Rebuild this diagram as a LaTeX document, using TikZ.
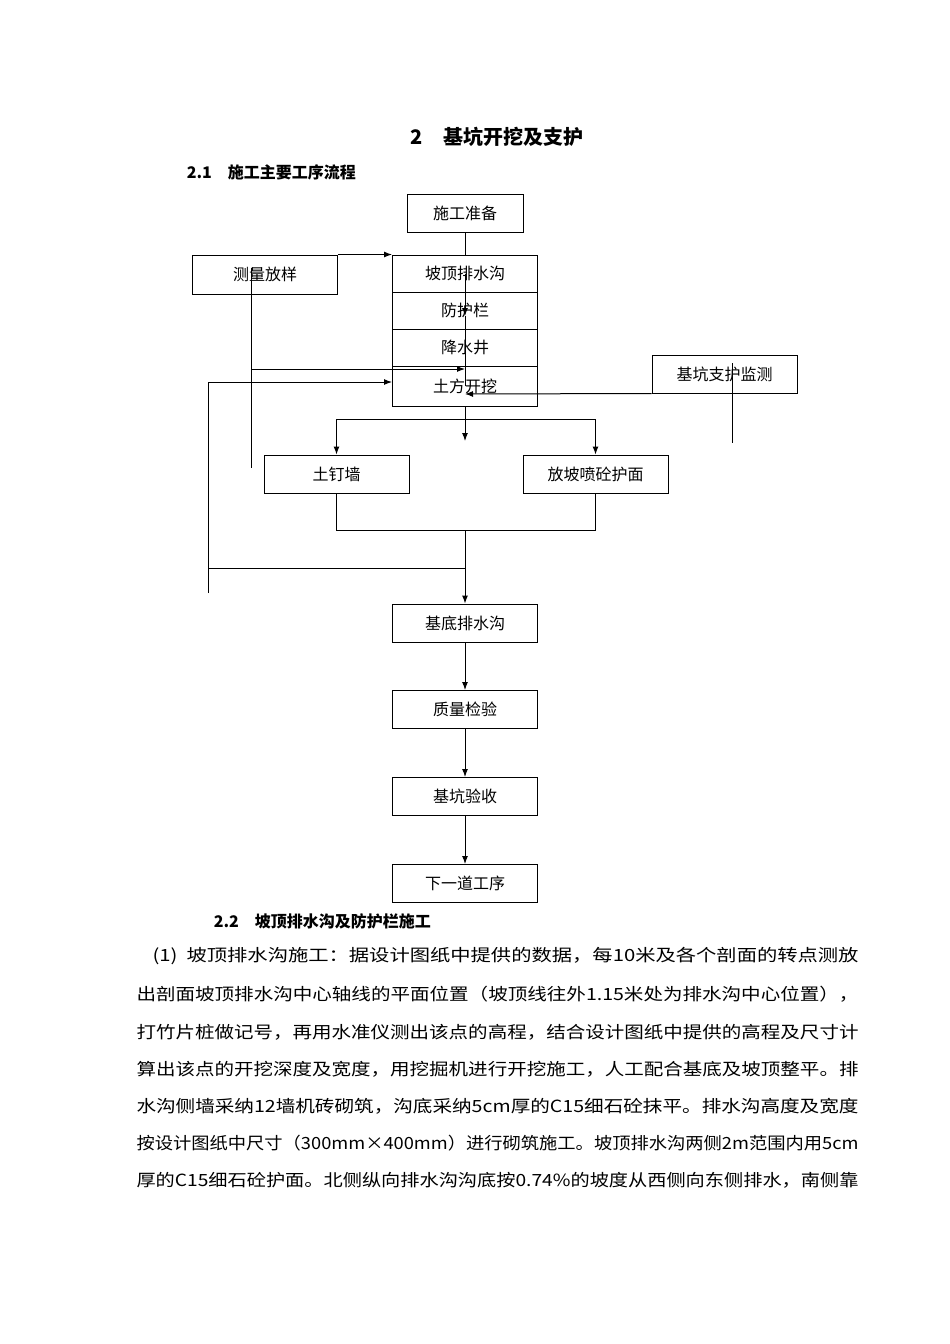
\documentclass[tikz,border=0pt]{standalone}
\usepackage{fontspec}
\usepackage{graphicx}
\usetikzlibrary{arrows.meta}
\setmainfont{Noto Sans CJK SC}
\begin{document}
\begin{tikzpicture}[x=1pt,y=-1pt,line width=1pt,>={Latex[length=8pt,width=6pt]},
  bx/.style={draw,minimum width=145pt,minimum height=38pt,inner sep=0pt,font=\fontsize{16}{16}\selectfont},
  ln/.style={anchor=west,inner sep=0pt,font=\fontsize{16.8}{16.8}\selectfont}]
\useasboundingbox[fill=white] (0,0) rectangle (950,1344);
\node[font=\bfseries\fontsize{20}{20}\selectfont] (t1) at (497,137) {2\quad 基坑开挖及支护};
\node[anchor=west,font=\bfseries\fontsize{16}{16}\selectfont] (t2) at (183,172) {2.1\quad 施工主要工序流程};
\node[anchor=west,font=\bfseries\fontsize{16}{16}\selectfont] (t3) at (210,921) {2.2\quad 坡顶排水沟及防护栏施工};

\node[bx,minimum width=116pt] (a) at (465,213) {施工准备};
\node[bx,minimum height=37pt] (s1) at (465,273.5) {坡顶排水沟};
\node[bx,minimum height=37pt] (s2) at (465,310.5) {防护栏};
\node[bx,minimum height=37pt] (s3) at (465,347.5) {降水井};
\node[bx,minimum height=40pt] (s4) at (465,386) {土方开挖};
\node[bx,minimum height=39pt] (m) at (265,274.5) {测量放样};
\node[bx,minimum height=38pt] (j) at (724.5,374) {基坑支护监测};
\node[bx] (w1) at (336.5,474) {土钉墙};
\node[bx] (w2) at (595.5,474) {放坡喷砼护面};
\node[bx] (b1) at (465,623) {基底排水沟};
\node[bx] (b2) at (465,709.5) {质量检验};
\node[bx] (b3) at (465,796.5) {基坑验收};
\node[bx] (b4) at (465,883.5) {下一道工序};

\draw (a.south) -- (s1.north);
\draw[->] (s1.center) -- (465,316);
\draw (465,316) -- (s4.center);
\draw[->] (m.north east) -- (s1.north west);
\draw (251,268) -- (251,468);
\draw[->] (251,369) -- (465,369);
\coordinate (L1) at (208,382);
\coordinate (L2) at (208,593);
\draw (L2) -- (L1);
\draw[->] (L1) -- (s4.west |- L1);
\draw[->] (j.south west) -- (465,394);
\draw (732,363) -- (732,443);
\draw[->] (s4.south) -- (465,441);
\draw (336.5,419) -- (595.5,419);
\draw[->] (336.5,419) -- (w1.north);
\draw[->] (595.5,419) -- (w2.north);
\draw (w1.south) -- (336.5,530) -- (595.5,530) -- (w2.south);
\draw (208,568) -- (465,568);
\draw[->] (465,530) -- (b1.north);
\draw[->] (b1) -- (b2);
\draw[->] (b2) -- (b3);
\draw[->] (b3) -- (b4);

\foreach \y/\x/\w/\t in {
956/152/706/{(1)\ \ 坡顶排水沟施工：据设计图纸中提供的数据，每10米及各个剖面的转点测放},
994/136/722/{出剖面坡顶排水沟中心轴线的平面位置（坡顶线往外1.15米处为排水沟中心位置），},
1032/136/722/{打竹片桩做记号，再用水准仪测出该点的高程，结合设计图纸中提供的高程及尺寸计},
1069/136/722/{算出该点的开挖深度及宽度，用挖掘机进行开挖施工，人工配合基底及坡顶整平。排},
1106/136/722/{水沟侧墙采纳12墙机砖砌筑，沟底采纳5cm厚的C15细石砼抹平。排水沟高度及宽度},
1143/136/722/{按设计图纸中尺寸（300mm×400mm）进行砌筑施工。坡顶排水沟两侧2m范围内用5cm},
1180/136/722/{厚的C15细石砼护面。北侧纵向排水沟沟底按0.74\%的坡度从西侧向东侧排水，南侧靠}}
  \node[ln] at (\x,\y) {\resizebox{\w pt}{\height}{\t}};
\end{tikzpicture}
\end{document}
